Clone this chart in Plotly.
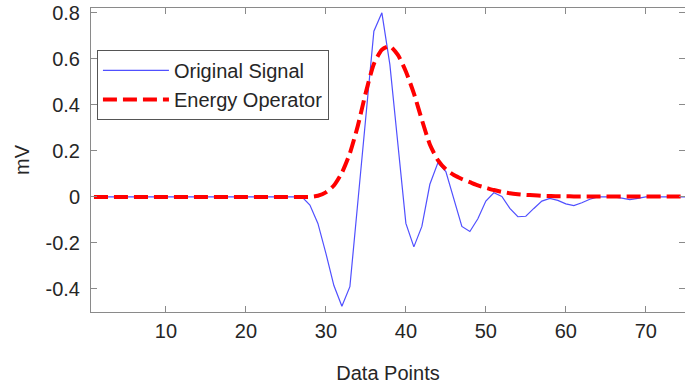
import plotly.graph_objects as go

x_points = list(range(1, 76))

original_signal = [0.0] * 26 + [
    0.0,     # 27
    -0.035,  # 28
    -0.115,  # 29
    -0.245,  # 30
    -0.385,  # 31
    -0.475,  # 32
    -0.39,   # 33
    -0.02,   # 34
    0.355,   # 35
    0.72,    # 36
    0.80,    # 37
    0.575,   # 38
    0.23,    # 39
    -0.115,  # 40
    -0.217,  # 41
    -0.128,  # 42
    0.055,   # 43
    0.148,   # 44
    0.11,    # 45
    -0.01,   # 46
    -0.128,  # 47
    -0.15,   # 48
    -0.095,  # 49
    -0.018,  # 50
    0.018,   # 51
    0.002,   # 52
    -0.05,   # 53
    -0.086,  # 54
    -0.084,  # 55
    -0.05,   # 56
    -0.018,  # 57
    -0.006,  # 58
    -0.015,  # 59
    -0.03,   # 60
    -0.038,  # 61
    -0.025,  # 62
    -0.01,   # 63
    0.0,     # 64
    0.0,     # 65
    0.0,     # 66
    -0.005,  # 67
    -0.012,  # 68
    -0.006,  # 69
    0.0, 0.0, 0.0, 0.0, 0.0, 0.0,  # 70-75
]

energy_operator = [0.0] * 28 + [
    0.005,   # 29
    0.02,    # 30
    0.05,    # 31
    0.105,   # 32
    0.19,    # 33
    0.31,    # 34
    0.455,   # 35
    0.578,   # 36
    0.64,    # 37
    0.655,   # 38
    0.617,   # 39
    0.545,   # 40
    0.45,    # 41
    0.335,   # 42
    0.228,   # 43
    0.16,    # 44
    0.12,    # 45
    0.095,   # 46
    0.078,   # 47
    0.064,   # 48
    0.05,    # 49
    0.04,    # 50
    0.03,    # 51
    0.022,   # 52
    0.016,   # 53
    0.012,   # 54
    0.009,   # 55
    0.007,   # 56
    0.005,   # 57
    0.004,   # 58
    0.003,   # 59
    0.003,   # 60
    0.002, 0.002, 0.002, 0.002, 0.002, 0.002, 0.002,  # 61-67
    0.002, 0.002, 0.002, 0.002, 0.002, 0.002, 0.002, 0.002,  # 68-75
]

x_ticks = [10, 20, 30, 40, 50, 60, 70]
y_ticks = [-0.4, -0.2, 0, 0.2, 0.4, 0.6, 0.8]
y_tick_text = ["-0.4", "-0.2", "0", "0.2", "0.4", "0.6", "0.8"]

FONT = "Liberation Sans, Arial, sans-serif"
TXT = "#262626"
AX = "#8a8a8a"

fig = go.Figure()
fig.add_trace(go.Scatter(
    x=x_points, y=original_signal, mode="lines", name="Original Signal",
    line=dict(color="#5050ff", width=1.2),
))
fig.add_trace(go.Scatter(
    x=x_points, y=energy_operator, mode="lines", name="Energy Operator",
    line=dict(color="#ff0000", width=4, dash="14px,6px", shape="spline", smoothing=0.6),
))

fig.update_layout(
    width=685, height=390,
    margin=dict(l=91, r=0, t=8, b=78),
    paper_bgcolor="white", plot_bgcolor="white",
    font=dict(family=FONT, color=TXT, size=19),
    showlegend=True,
    legend=dict(
        x=0.010, y=0.862, xanchor="left", yanchor="top",
        bgcolor="white", bordercolor="#555555", borderwidth=1,
        font=dict(size=20, color=TXT, family=FONT),
        itemwidth=66, tracegroupgap=0,
    ),
    xaxis=dict(
        range=[0.63, 74.9], tickvals=x_ticks, ticks="inside", ticklen=6,
        tickcolor=AX, showline=True, linecolor=AX, linewidth=1, mirror="ticks",
        showgrid=False, zeroline=False, ticklabelstandoff=1, automargin=False,
        tickfont=dict(size=20, color=TXT),
        title=dict(text="Data Points", font=dict(size=20, color=TXT), standoff=24),
    ),
    yaxis=dict(
        range=[-0.5, 0.821], tickvals=y_ticks, ticktext=y_tick_text,
        ticks="inside", ticklen=6, tickcolor=AX, showline=True, linecolor=AX,
        linewidth=1, mirror="ticks", showgrid=False, zeroline=False,
        ticklabelstandoff=6, automargin=False,
        tickfont=dict(size=20, color=TXT),
        title=dict(text="mV", font=dict(size=20, color=TXT), standoff=10),
    ),
)

fig.write_html(
    "out.html",
    config={"displayModeBar": False},
    post_script="document.body.style.margin='0px';",
)
